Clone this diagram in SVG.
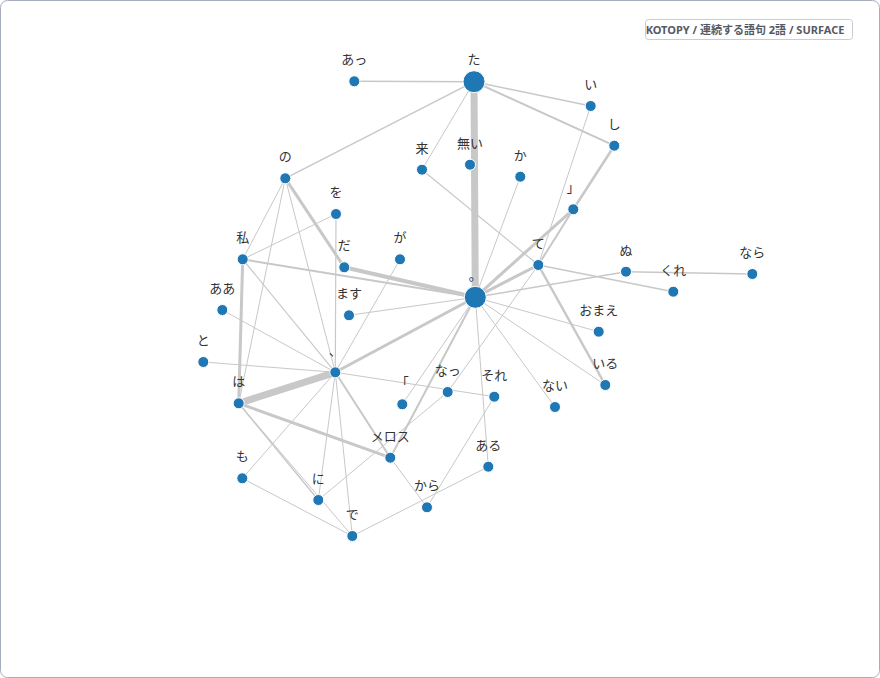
<svg xmlns="http://www.w3.org/2000/svg" width="880" height="678" viewBox="0 0 880 678">
<style>
.frame{fill:#fff;stroke:#a7acbf;stroke-width:1}
.e{stroke:#c8c8c8;stroke-linecap:butt;fill:none}
.n circle{fill:#1f77b4;stroke:#fff;stroke-width:1}
.n text{font-family:"Noto Sans CJK JP","Noto Sans",sans-serif;font-size:13px;fill:#333;text-anchor:middle}
.tb{fill:#fff;stroke:#c9ccd6;stroke-width:1}
.tt{font-family:"Noto Sans","Noto Sans CJK JP",sans-serif;font-size:11px;font-weight:bold;fill:#555a66;text-anchor:middle}
</style>
<rect class="frame" x="0.5" y="0.5" width="879" height="677" rx="7"/>
<g id="title">
<rect class="tb" x="645.5" y="19.5" width="207" height="20" rx="3"/>
<text class="tt" x="745" y="33.5">KOTOPY / 連続する語句 2語 / SURFACE</text>
</g>
<g id="edges">
<line class="e" x1="474" y1="81.7" x2="354.3" y2="81.3" stroke-width="1.5"/>
<line class="e" x1="474" y1="81.7" x2="285.3" y2="178.3" stroke-width="1.5"/>
<line class="e" x1="474" y1="81.7" x2="422" y2="169.7" stroke-width="1"/>
<line class="e" x1="474" y1="81.7" x2="475.3" y2="297.3" stroke-width="7"/>
<line class="e" x1="474" y1="81.7" x2="590.7" y2="106" stroke-width="1.5"/>
<line class="e" x1="474" y1="81.7" x2="614.3" y2="145.7" stroke-width="2"/>
<line class="e" x1="422" y1="169.7" x2="538.3" y2="265" stroke-width="1.2"/>
<line class="e" x1="520.3" y1="176.7" x2="475.3" y2="297.3" stroke-width="1"/>
<line class="e" x1="590.7" y1="106" x2="538.3" y2="265" stroke-width="1"/>
<line class="e" x1="614.3" y1="145.7" x2="573.3" y2="209.3" stroke-width="2.5"/>
<line class="e" x1="573.3" y1="209.3" x2="475.3" y2="297.3" stroke-width="3"/>
<line class="e" x1="573.3" y1="209.3" x2="538.3" y2="265" stroke-width="2"/>
<line class="e" x1="538.3" y1="265" x2="475.3" y2="297.3" stroke-width="3"/>
<line class="e" x1="538.3" y1="265" x2="673.3" y2="291.7" stroke-width="1.5"/>
<line class="e" x1="538.3" y1="265" x2="447.7" y2="392" stroke-width="1"/>
<line class="e" x1="538.3" y1="265" x2="605.3" y2="385" stroke-width="2.5"/>
<line class="e" x1="475.3" y1="297.3" x2="626" y2="271.7" stroke-width="1.5"/>
<line class="e" x1="626" y1="271.7" x2="752.3" y2="274" stroke-width="1.5"/>
<line class="e" x1="475.3" y1="297.3" x2="598.7" y2="331.7" stroke-width="1"/>
<line class="e" x1="475.3" y1="297.3" x2="605.3" y2="385" stroke-width="1"/>
<line class="e" x1="475.3" y1="297.3" x2="555" y2="407" stroke-width="1"/>
<line class="e" x1="475.3" y1="297.3" x2="488.3" y2="466.7" stroke-width="1"/>
<line class="e" x1="475.3" y1="297.3" x2="390.3" y2="457.7" stroke-width="2"/>
<line class="e" x1="475.3" y1="297.3" x2="402.3" y2="404.3" stroke-width="1"/>
<line class="e" x1="475.3" y1="297.3" x2="335.3" y2="372.3" stroke-width="3"/>
<line class="e" x1="475.3" y1="297.3" x2="349" y2="315.3" stroke-width="1"/>
<line class="e" x1="475.3" y1="297.3" x2="344.3" y2="267.3" stroke-width="4"/>
<line class="e" x1="475.3" y1="297.3" x2="242.7" y2="259.3" stroke-width="2"/>
<line class="e" x1="285.3" y1="178.3" x2="242.7" y2="259.3" stroke-width="1"/>
<line class="e" x1="285.3" y1="178.3" x2="238.7" y2="403.3" stroke-width="1"/>
<line class="e" x1="285.3" y1="178.3" x2="335.3" y2="372.3" stroke-width="1"/>
<line class="e" x1="285.3" y1="178.3" x2="344.3" y2="267.3" stroke-width="3"/>
<line class="e" x1="336" y1="214" x2="242.7" y2="259.3" stroke-width="1"/>
<line class="e" x1="336" y1="214" x2="335.3" y2="372.3" stroke-width="1.2"/>
<line class="e" x1="242.7" y1="259.3" x2="238.7" y2="403.3" stroke-width="3"/>
<line class="e" x1="242.7" y1="259.3" x2="335.3" y2="372.3" stroke-width="1.2"/>
<line class="e" x1="400" y1="259.3" x2="335.3" y2="372.3" stroke-width="1"/>
<line class="e" x1="222.3" y1="310" x2="335.3" y2="372.3" stroke-width="1"/>
<line class="e" x1="203.3" y1="362" x2="335.3" y2="372.3" stroke-width="1"/>
<line class="e" x1="335.3" y1="372.3" x2="238.7" y2="403.3" stroke-width="7"/>
<line class="e" x1="335.3" y1="372.3" x2="494.3" y2="396.7" stroke-width="1"/>
<line class="e" x1="335.3" y1="372.3" x2="390.3" y2="457.7" stroke-width="2"/>
<line class="e" x1="335.3" y1="372.3" x2="242.3" y2="478.3" stroke-width="1"/>
<line class="e" x1="335.3" y1="372.3" x2="318.3" y2="500" stroke-width="1"/>
<line class="e" x1="335.3" y1="372.3" x2="352.3" y2="536" stroke-width="1"/>
<line class="e" x1="238.7" y1="403.3" x2="390.3" y2="457.7" stroke-width="3"/>
<line class="e" x1="238.7" y1="403.3" x2="318.3" y2="500" stroke-width="1.5"/>
<line class="e" x1="238.7" y1="403.3" x2="352.3" y2="536" stroke-width="1"/>
<line class="e" x1="242.3" y1="478.3" x2="352.3" y2="536" stroke-width="1"/>
<line class="e" x1="318.3" y1="500" x2="447.7" y2="392" stroke-width="1"/>
<line class="e" x1="352.3" y1="536" x2="488.3" y2="466.7" stroke-width="1"/>
<line class="e" x1="390.3" y1="457.7" x2="427" y2="507.3" stroke-width="1"/>
<line class="e" x1="427" y1="507.3" x2="494.3" y2="396.7" stroke-width="1"/>
</g>
<g id="n-ta" class="n"><circle cx="474" cy="81.7" r="11"/><text x="474" y="64">た</text></g>
<g id="n-att" class="n"><circle cx="354.3" cy="81.3" r="5.5"/><text x="354.3" y="64">あっ</text></g>
<g id="n-i" class="n"><circle cx="590.7" cy="106" r="5.5"/><text x="590.7" y="89">い</text></g>
<g id="n-shi" class="n"><circle cx="614.3" cy="145.7" r="5.5"/><text x="614.3" y="128.7">し</text></g>
<g id="n-ku" class="n"><circle cx="422" cy="169.7" r="5.5"/><text x="422" y="152.7">来</text></g>
<g id="n-nai2" class="n"><circle cx="470" cy="164.7" r="5.5"/><text x="470" y="147.7">無い</text></g>
<g id="n-ka" class="n"><circle cx="520.3" cy="176.7" r="5.5"/><text x="520.3" y="159.7">か</text></g>
<g id="n-no" class="n"><circle cx="285.3" cy="178.3" r="5.5"/><text x="285.3" y="161.3">の</text></g>
<g id="n-wo" class="n"><circle cx="336" cy="214" r="5.5"/><text x="336" y="197">を</text></g>
<g id="n-kakko2" class="n"><circle cx="573.3" cy="209.3" r="5.5"/><text x="573.3" y="192.3">」</text></g>
<g id="n-watashi" class="n"><circle cx="242.7" cy="259.3" r="5.5"/><text x="242.7" y="242.3">私</text></g>
<g id="n-da" class="n"><circle cx="344.3" cy="267.3" r="5.5"/><text x="344.3" y="250.3">だ</text></g>
<g id="n-ga" class="n"><circle cx="400" cy="259.3" r="5.5"/><text x="400" y="242.3">が</text></g>
<g id="n-te" class="n"><circle cx="538.3" cy="265" r="5.5"/><text x="538.3" y="248">て</text></g>
<g id="n-nu" class="n"><circle cx="626" cy="271.7" r="5.5"/><text x="626" y="254.7">ぬ</text></g>
<g id="n-maru" class="n"><circle cx="475.3" cy="297.3" r="11"/><text x="475.3" y="280.3">。</text></g>
<g id="n-kure" class="n"><circle cx="673.3" cy="291.7" r="5.5"/><text x="673.3" y="274.7">くれ</text></g>
<g id="n-nara" class="n"><circle cx="752.3" cy="274" r="5.5"/><text x="752.3" y="257">なら</text></g>
<g id="n-aa" class="n"><circle cx="222.3" cy="310" r="5.5"/><text x="222.3" y="293">ああ</text></g>
<g id="n-masu" class="n"><circle cx="349" cy="315.3" r="5.5"/><text x="349" y="298.3">ます</text></g>
<g id="n-omae" class="n"><circle cx="598.7" cy="331.7" r="5.5"/><text x="598.7" y="314.7">おまえ</text></g>
<g id="n-to" class="n"><circle cx="203.3" cy="362" r="5.5"/><text x="203.3" y="345">と</text></g>
<g id="n-ten" class="n"><circle cx="335.3" cy="372.3" r="5.5"/><text x="335.3" y="355.3">、</text></g>
<g id="n-kakko1" class="n"><circle cx="402.3" cy="404.3" r="5.5"/><text x="402.3" y="387.3">「</text></g>
<g id="n-natt" class="n"><circle cx="447.7" cy="392" r="5.5"/><text x="447.7" y="375">なっ</text></g>
<g id="n-sore" class="n"><circle cx="494.3" cy="396.7" r="5.5"/><text x="494.3" y="379.7">それ</text></g>
<g id="n-nai" class="n"><circle cx="555" cy="407" r="5.5"/><text x="555" y="390">ない</text></g>
<g id="n-iru" class="n"><circle cx="605.3" cy="385" r="5.5"/><text x="605.3" y="368">いる</text></g>
<g id="n-ha" class="n"><circle cx="238.7" cy="403.3" r="5.5"/><text x="238.7" y="386.3">は</text></g>
<g id="n-meros" class="n"><circle cx="390.3" cy="457.7" r="5.5"/><text x="390.3" y="440.7">メロス</text></g>
<g id="n-aru" class="n"><circle cx="488.3" cy="466.7" r="5.5"/><text x="488.3" y="449.7">ある</text></g>
<g id="n-mo" class="n"><circle cx="242.3" cy="478.3" r="5.5"/><text x="242.3" y="461.3">も</text></g>
<g id="n-ni" class="n"><circle cx="318.3" cy="500" r="5.5"/><text x="318.3" y="483">に</text></g>
<g id="n-kara" class="n"><circle cx="427" cy="507.3" r="5.5"/><text x="427" y="490.3">から</text></g>
<g id="n-de" class="n"><circle cx="352.3" cy="536" r="5.5"/><text x="352.3" y="519">で</text></g>
</svg>
